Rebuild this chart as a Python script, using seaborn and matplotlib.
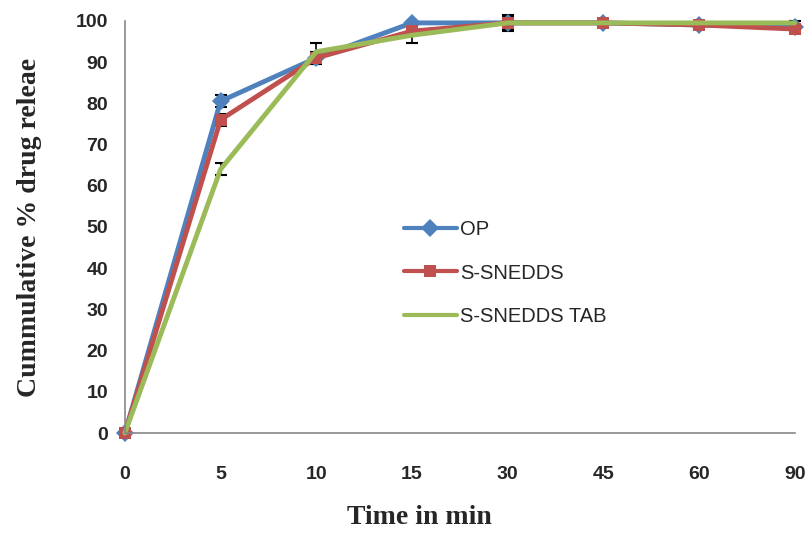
import matplotlib
matplotlib.use("Agg")
import matplotlib.pyplot as plt
import numpy as np
import pandas as pd
import seaborn as sns

time_labels = ["0", "5", "10", "15", "30", "45", "60", "90"]
op = [0, 80.5, 91, 99.5, 99.5, 99.5, 99, 98.5]
op_err = [0, 1.5, 1.5, 0.5, 0.5, 0.5, 0.5, 0.5]
snedds = [0, 76, 91, 97.5, 99.5, 99.5, 99, 98]
snedds_err = [0, 1.5, 1.5, 1.0, 1.5, 0.5, 0.5, 0.5]
tab = [0, 64, 92.5, 96.5, 99.5, 99.5, 99.5, 99.5]
tab_err = [0, 1.5, 2.0, 2.0, 2.0, 0.5, 0.5, 0.5]

series = ["OP", "S-SNEDDS", "S-SNEDDS TAB"]
colors = ["#4F81BD", "#C0504D", "#9BBB59"]
markers = ["D", "s", None]

sns.set_style("white")

pos = np.arange(len(time_labels))
df = pd.concat([
    pd.DataFrame({"pos": pos, "release": vals, "err": errs, "series": name})
    for name, vals, errs in zip(series, [op, snedds, tab], [op_err, snedds_err, tab_err])
])

fig = plt.figure(figsize=(8.11, 5.34), dpi=100)
ax = fig.add_axes([0.154, 0.189, 0.826, 0.772])

# error bars first, lines on top
for name in series:
    d = df[df["series"] == name]
    ax.errorbar(d["pos"], d["release"], yerr=d["err"], fmt="none",
                ecolor="black", elinewidth=1.2, capsize=4, capthick=1.5, zorder=1)

for name, c, m in zip(series, colors, markers):
    d = df[df["series"] == name]
    sns.lineplot(data=d, x="pos", y="release", color=c, marker=m,
                 linewidth=3.5, markersize=9, markeredgewidth=0,
                 label=name, ax=ax, zorder=2)
for line in ax.get_lines():
    line.set_clip_on(False)

ax.set_xlim(0, len(time_labels) - 1)
ax.set_ylim(0, 100)
ax.set_xticks(pos)
ax.set_xticklabels(time_labels)
ax.set_yticks(range(0, 101, 10))

for s in ["top", "right"]:
    ax.spines[s].set_visible(False)
for s in ["left", "bottom"]:
    ax.spines[s].set_color("#888888")
    ax.spines[s].set_linewidth(1.2)

ax.tick_params(axis="both", direction="out", length=6, width=1.2, color="#888888",
               labelsize=14, pad=6)
ax.tick_params(axis="x", pad=18)
for lbl in ax.get_xticklabels() + ax.get_yticklabels():
    lbl.set_fontweight("bold")
    lbl.set_family("Liberation Sans")

ax.set_xlabel("Time in min", family="Liberation Serif", fontweight="bold",
              fontsize=20, va="center")
ax.xaxis.set_label_coords(0.44, -0.204)
ax.set_ylabel("Cummulative % drug releae", family="Liberation Serif",
              fontweight="bold", fontsize=20, va="center")
ax.yaxis.set_label_coords(-0.142, 0.5)

leg = ax.legend(loc="upper left", bbox_to_anchor=(0.39, 0.56), frameon=False,
                prop={"family": "Liberation Sans", "size": 14.5},
                handlelength=2.6, labelspacing=1.2, handletextpad=0.15)
for line in leg.get_lines():
    line.set_linewidth(3)

fig.savefig("out.png", dpi=100)
